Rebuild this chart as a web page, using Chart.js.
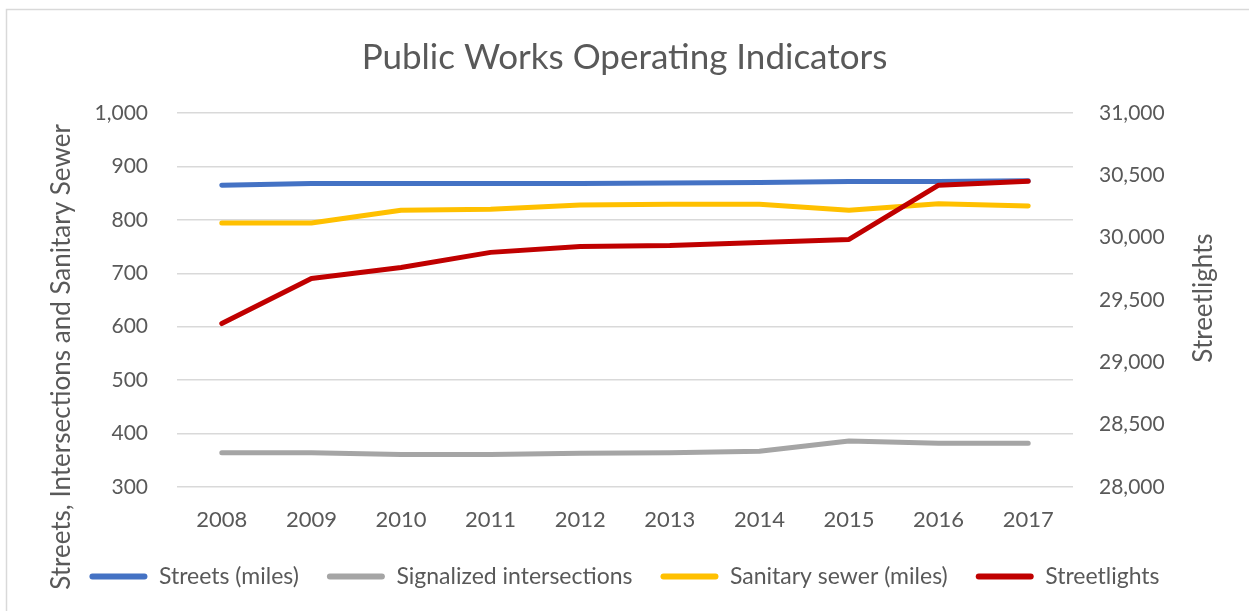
<!DOCTYPE html>
<html>
<head>
<meta charset="utf-8">
<script src="https://cdn.jsdelivr.net/npm/chart.js@4"></script>
<style>
  html, body { margin: 0; padding: 0; background: #ffffff; }
  #wrap { width: 1249px; height: 611px; }
</style>
</head>
<body>
<div id="wrap"><canvas id="c" width="1249" height="611"></canvas></div>
<script>
const chartTitle = 'Public Works Operating Indicators';
const leftAxisTitle = 'Streets, Intersections and Sanitary Sewer';
const rightAxisTitle = 'Streetlights';

const years = ['2008', '2009', '2010', '2011', '2012', '2013', '2014', '2015', '2016', '2017'];
const streetsMiles = [865, 868, 868, 868, 868, 869, 870, 872, 872, 873];
const signalizedIntersections = [364, 364, 361, 361, 363, 364, 367, 386, 382, 382];
const sanitarySewerMiles = [794, 794, 818, 820, 828, 829, 829, 818, 830, 826];
const streetlights = [29311, 29673, 29761, 29882, 29930, 29938, 29962, 29986, 30421, 30453];

const seriesNames = ['Streets (miles)', 'Signalized intersections', 'Sanitary sewer (miles)', 'Streetlights'];
const seriesColors = ['#4472C4', '#A5A5A5', '#FFC000', '#C00000'];

const TEXT = '#595959';
const FONT = 'Lato, "Open Sans", sans-serif';

function mk(i, data, axis, order) {
  return {
    label: seriesNames[i],
    data: data,
    yAxisID: axis,
    borderColor: seriesColors[i],
    backgroundColor: seriesColors[i],
    borderWidth: 5,
    borderCapStyle: 'round',
    borderJoinStyle: 'round',
    pointRadius: 0,
    pointHoverRadius: 0,
    tension: 0,
    fill: false,
    order: order
  };
}

const frame = {
  id: 'frame',
  beforeDraw(chart) {
    const ctx = chart.ctx;
    ctx.save();
    ctx.strokeStyle = '#d9d9d9';
    ctx.lineWidth = 1.5;
    ctx.beginPath();
    ctx.moveTo(6.5, 611);
    ctx.lineTo(6.5, 9.5);
    ctx.lineTo(1249, 9.5);
    ctx.stroke();
    ctx.restore();
  },
  afterDraw(chart) {
    const ctx = chart.ctx;
    ctx.save();
    ctx.fillStyle = TEXT;
    ctx.font = '26px ' + FONT;
    ctx.textAlign = 'center';
    ctx.textBaseline = 'middle';
    ctx.translate(62, 357);
    ctx.rotate(-Math.PI / 2);
    ctx.fillText(leftAxisTitle, 0, 0);
    ctx.restore();
    ctx.save();
    ctx.fillStyle = TEXT;
    ctx.font = '26px ' + FONT;
    ctx.textAlign = 'center';
    ctx.textBaseline = 'middle';
    ctx.translate(1204, 298);
    ctx.rotate(-Math.PI / 2);
    ctx.fillText(rightAxisTitle, 0, 0);
    ctx.restore();
  }
};

new Chart(document.getElementById('c'), {
  type: 'line',
  data: {
    labels: years,
    datasets: [
      mk(0, streetsMiles, 'y', 4),
      mk(1, signalizedIntersections, 'y', 3),
      mk(2, sanitarySewerMiles, 'y', 2),
      mk(3, streetlights, 'y1', 1)
    ]
  },
  plugins: [frame],
  options: {
    responsive: false,
    animation: false,
    devicePixelRatio: 1,
    layout: { padding: { left: 0, right: 0, top: 0, bottom: 13 } },
    plugins: {
      title: {
        display: true,
        text: chartTitle,
        color: TEXT,
        font: { family: FONT, size: 35, weight: 'normal' },
        padding: { top: 37, bottom: 34 }
      },
      legend: {
        position: 'bottom',
        labels: {
          color: TEXT,
          font: { family: FONT, size: 23 },
          boxWidth: 58,
          boxHeight: 6,
          padding: 28,
          useBorderRadius: true,
          borderRadius: 3,
          sort: (a, b) => a.datasetIndex - b.datasetIndex,
          generateLabels(chart) {
            const items = Chart.defaults.plugins.legend.labels.generateLabels(chart);
            items.forEach(it => { it.lineWidth = 0; it.strokeStyle = 'rgba(0,0,0,0)'; });
            return items;
          }
        }
      },
      tooltip: { enabled: false }
    },
    scales: {
      x: {
        offset: true,
        grid: { display: false, drawTicks: false },
        border: { display: false },
        ticks: { color: TEXT, font: { family: FONT, size: 22 }, padding: 20, maxRotation: 0 },
        afterFit(scale) { scale.height = 50; }
      },
      y: {
        position: 'left',
        min: 300,
        max: 1000,
        grid: { color: '#d9d9d9', lineWidth: 1.5, drawTicks: false },
        border: { display: false },
        ticks: { stepSize: 100, color: TEXT, font: { family: FONT, size: 21 }, padding: 29 },
        afterFit(scale) { scale.width = 177; }
      },
      y1: {
        position: 'right',
        min: 28000,
        max: 31000,
        grid: { display: false, drawTicks: false },
        border: { display: false },
        ticks: { stepSize: 500, color: TEXT, font: { family: FONT, size: 21 }, padding: 26 },
        afterFit(scale) { scale.width = 176; }
      }
    }
  }
});
</script>
</body>
</html>
